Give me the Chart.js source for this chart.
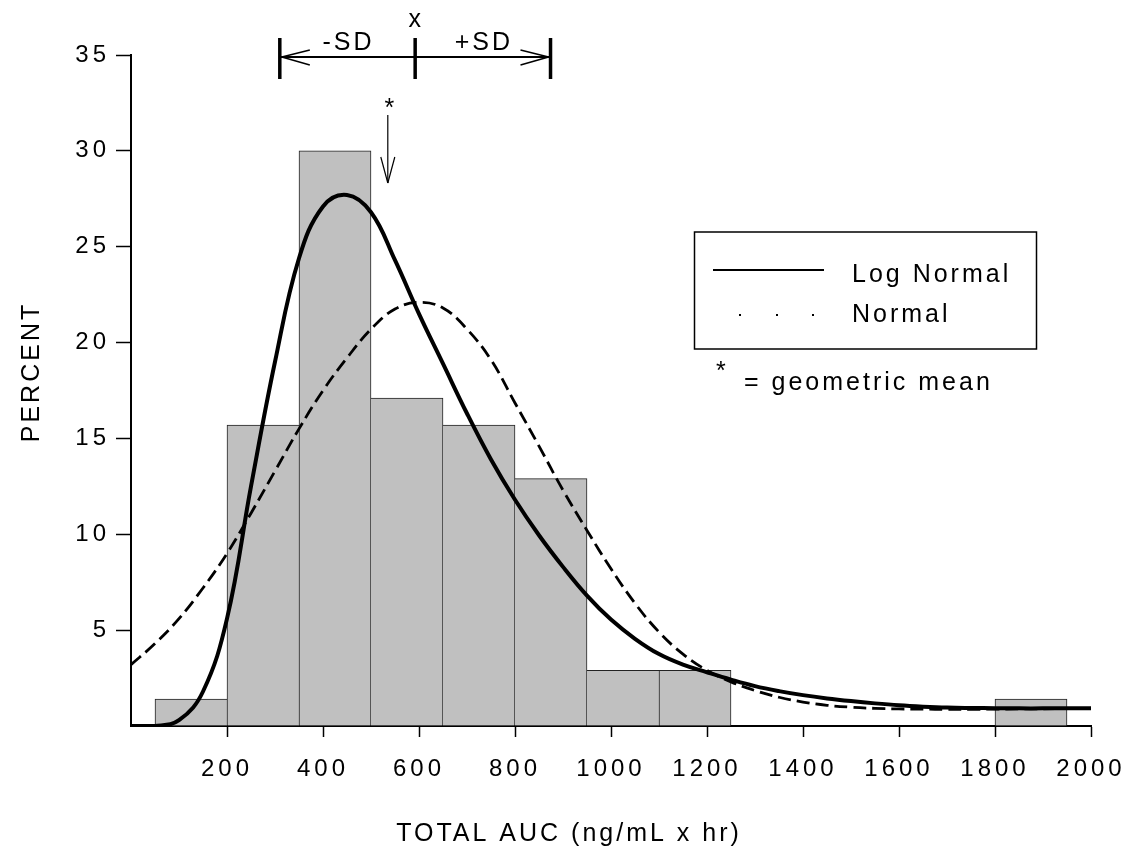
<!DOCTYPE html>
<html>
<head>
<meta charset="utf-8">
<script src="https://cdn.jsdelivr.net/npm/chart.js@4.4.0/dist/chart.umd.min.js"></script>
<style>
  html, body { margin: 0; padding: 0; background: #fff; }
  #wrap { width: 1132px; height: 858px; }
</style>
</head>
<body>
<div id="wrap"><canvas id="aucChart" width="1132" height="858"></canvas></div>
<script>
// histogram: lower edge of each bin (width 150) and percent of subjects
const binStart = [50, 200, 350, 500, 650, 800, 950, 1100, 1800];
const binWidth = 150;
const binPercent = [1.4, 15.7, 30.0, 17.1, 15.7, 12.9, 2.9, 2.9, 1.4];

// fitted curves, every 50 units
const curveX = [0, 50, 100, 150, 200, 250, 300, 350, 400, 450, 500, 550, 600, 650, 700, 750, 800, 850, 900, 950,
  1000, 1050, 1100, 1150, 1200, 1250, 1300, 1350, 1400, 1450, 1500, 1550, 1600, 1650, 1700, 1750, 1800, 1850, 1900, 1950, 2000];
const logNormalY = [0, 0, 0.3, 1.8, 5.6, 12.5, 19.0, 24.4, 27.1, 27.7, 26.8, 24.3, 21.5, 18.9, 16.3, 13.9, 11.8, 9.95, 8.3, 6.8,
  5.55, 4.55, 3.75, 3.2, 2.8, 2.42, 2.08, 1.82, 1.61, 1.44, 1.3, 1.18, 1.08, 1.01, 0.96, 0.94, 0.93, 0.92, 0.92, 0.92, 0.92];
const normalY = [3.2, 4.3, 5.6, 7.2, 9.0, 11.1, 13.3, 15.5, 17.5, 19.2, 20.7, 21.75, 22.1, 21.8, 20.7, 19.1, 16.85, 14.6, 12.3, 10.2,
  8.2, 6.4, 4.9, 3.75, 2.9, 2.3, 1.85, 1.5, 1.25, 1.08, 0.98, 0.92, 0.89, 0.88, 0.87, 0.87, 0.88, 0.89, 0.9, 0.91, 0.92];

// axes
const xMin = 0, xMax = 2000, xStep = 200;
const yMin = 0, yMax = 35, yStep = 5;

// summary marks at the top of the plot
const meanAUC = 592;
const sdAUC = 282;
const geoMeanAUC = 535;

const FONT = "'Liberation Sans', Arial, sans-serif";
Chart.defaults.font.family = FONT;
Chart.defaults.color = '#000';

function hideZero(value) {
  return value === 0 ? '' : value;
}

function tickColor(c) {
  return c.tick && c.tick.value === 0 ? 'rgba(0,0,0,0)' : '#000';
}

// draw each shared bar edge once, by the taller of the two bars
function barBorder(c) {
  const i = c.dataIndex;
  const h = binPercent[i];
  const hasPrev = i > 0 && binStart[i - 1] + binWidth === binStart[i];
  const hasNext = i < binStart.length - 1 && binStart[i] + binWidth === binStart[i + 1];
  return {
    top: 1,
    bottom: 0,
    left: !hasPrev || binPercent[i - 1] <= h ? 1 : 0,
    right: !hasNext || binPercent[i + 1] < h ? 1 : 0,
  };
}

function line(c, x1, y1, x2, y2) {
  c.beginPath();
  c.moveTo(x1, y1);
  c.lineTo(x2, y2);
  c.stroke();
}

const spacing = {
  id: 'spacing',
  beforeLayout(chart) { chart.ctx.letterSpacing = '4px'; },
  beforeDraw(chart) { chart.ctx.letterSpacing = '4px'; },
};

const annotations = {
  id: 'annotations',
  afterDraw(chart) {
    const c = chart.ctx;
    const xs = chart.scales.x;
    c.save();
    c.letterSpacing = '3px';
    c.fillStyle = '#000';
    c.strokeStyle = '#000';
    c.font = '25px ' + FONT;
    c.textBaseline = 'alphabetic';
    c.textAlign = 'center';

    // mean +/- SD bar
    const xm = xs.getPixelForValue(meanAUC);
    const xl = xs.getPixelForValue(meanAUC - sdAUC);
    const xr = xs.getPixelForValue(meanAUC + sdAUC);
    const yb = 57;
    c.lineWidth = 2;
    line(c, xl, yb, xr, yb);
    c.lineWidth = 3.5;
    [xl, xm, xr].forEach((x) => line(c, x, 38, x, 79));
    c.lineWidth = 1.5;
    line(c, xl + 2, yb, xl + 30, yb - 7);
    line(c, xl + 2, yb, xl + 30, yb + 8);
    line(c, xr - 2, yb, xr - 30, yb - 7);
    line(c, xr - 2, yb, xr - 30, yb + 8);
    c.fillText('-SD', (xl + xm) / 2 + 1, 50);
    c.fillText('+SD', (xm + xr) / 2 + 1, 50);
    c.fillText('x', xm + 1, 27);

    // geometric mean arrow
    const xg = xs.getPixelForValue(geoMeanAUC);
    c.fillText('*', xg + 3, 116);
    c.lineWidth = 1.2;
    line(c, xg, 115, xg, 183);
    line(c, xg - 7, 157, xg, 183);
    line(c, xg + 7, 157, xg, 183);

    // legend box
    c.lineWidth = 1.5;
    c.strokeRect(694.5, 232, 342, 117);
    c.lineWidth = 2;
    line(c, 713, 270, 824, 270);
    [740, 777, 813].forEach((x) => c.fillRect(x - 1, 314, 2, 2));
    c.textAlign = 'left';
    c.fillText('Log Normal', 852, 282);
    c.fillText('Normal', 852, 322);
    c.fillText('*', 716, 379);
    c.fillText('= geometric mean', 744, 390);

    // axis titles
    c.textAlign = 'center';
    c.fillText('TOTAL AUC (ng/mL x hr)', 569, 841);
    c.translate(39, 372);
    c.rotate(-Math.PI / 2);
    c.fillText('PERCENT', 0, 0);
    c.restore();
  },
};

const ctx = document.getElementById('aucChart').getContext('2d');

new Chart(ctx, {
  type: 'bar',
  data: {
    datasets: [
      {
        type: 'line',
        label: 'Log Normal',
        data: curveX.map((x, i) => ({ x, y: logNormalY[i] })),
        borderColor: '#000',
        borderWidth: 4,
        pointRadius: 0,
        tension: 0.4,
        fill: false,
        order: 1,
      },
      {
        type: 'line',
        label: 'Normal',
        data: curveX.map((x, i) => ({ x, y: normalY[i] })),
        borderColor: '#000',
        borderWidth: 2.8,
        borderDash: [13, 6],
        pointRadius: 0,
        tension: 0.4,
        fill: false,
        order: 2,
      },
      {
        type: 'bar',
        label: 'Percent',
        data: binStart.map((s, i) => ({ x: s + binWidth / 2, y: binPercent[i] })),
        backgroundColor: '#c0c0c0',
        borderColor: '#222',
        borderWidth: barBorder,
        barPercentage: 1,
        categoryPercentage: 1,
        order: 3,
      },
    ],
  },
  options: {
    responsive: false,
    animation: false,
    devicePixelRatio: 1,
    layout: { padding: { left: 0, right: 41, top: 55, bottom: 0 } },
    plugins: {
      legend: { display: false },
      tooltip: { enabled: false },
    },
    scales: {
      x: {
        type: 'linear',
        min: xMin,
        max: xMax,
        offset: false,
        ticks: { stepSize: xStep, callback: hideZero, font: { size: 24 }, padding: 18, maxRotation: 0, autoSkip: false },
        grid: { offset: false, drawOnChartArea: false, tickLength: 11, tickColor: tickColor, tickWidth: 1.5 },
        border: { color: '#000', width: 2 },
        afterFit(scale) {
          scale.height = 132;
          scale.paddingLeft = 0;
          scale.paddingRight = 0;
        },
      },
      y: {
        min: yMin,
        max: yMax,
        ticks: { stepSize: yStep, callback: hideZero, font: { size: 24 }, padding: 6 },
        grid: { drawOnChartArea: false, tickLength: 15, tickColor: tickColor, tickWidth: 1.5 },
        border: { color: '#000', width: 2 },
        afterFit(scale) {
          scale.width = 131;
          scale.paddingTop = 0;
          scale.paddingBottom = 0;
        },
      },
    },
  },
  plugins: [spacing, annotations],
});
</script>
</body>
</html>
